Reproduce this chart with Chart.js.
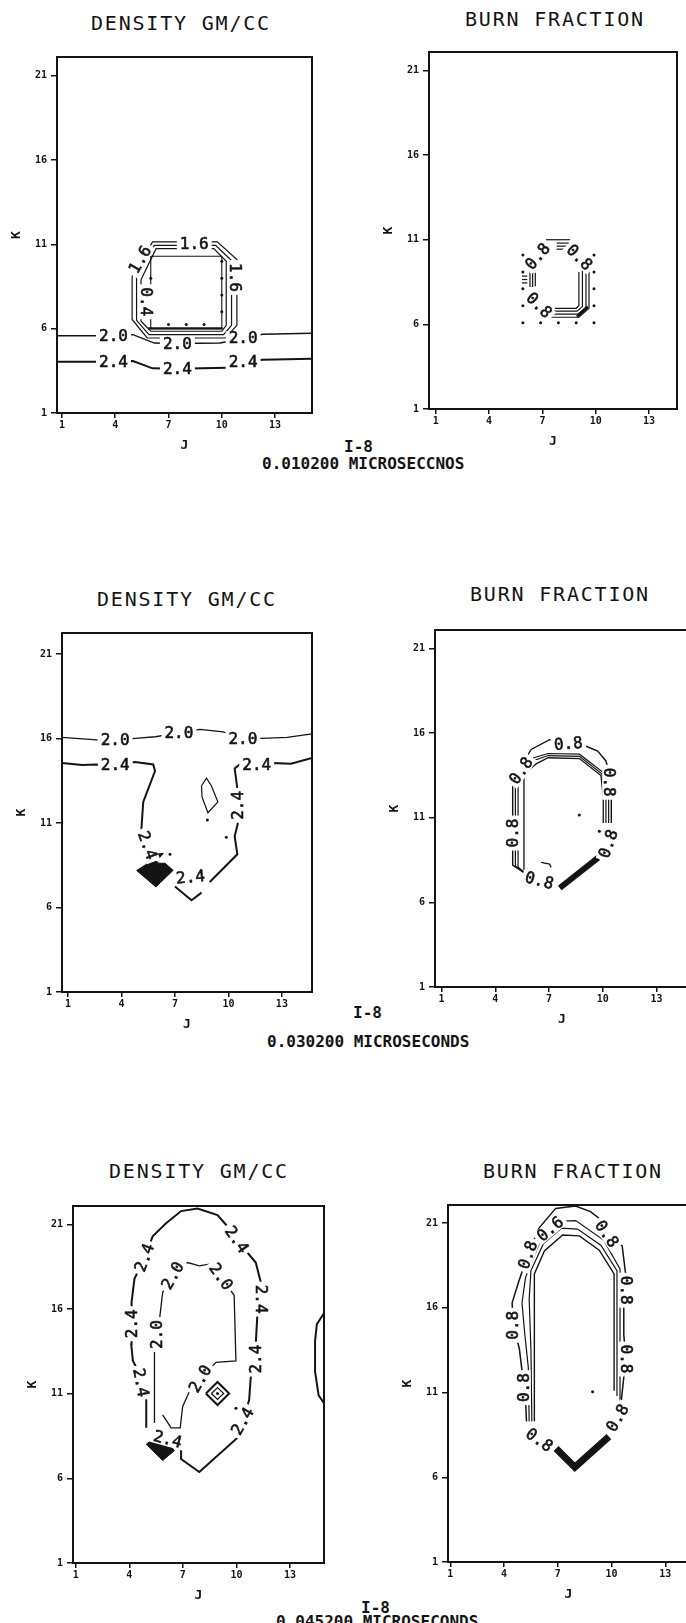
<!DOCTYPE html>
<html>
<head>
<meta charset="utf-8">
<title>I-8 density and burn fraction contours</title>
<script src="https://cdn.jsdelivr.net/npm/chart.js@4.4.1/dist/chart.umd.min.js"></script>
<style>
  html, body { margin: 0; padding: 0; background: #fff; }
  body { position: relative; width: 686px; height: 1623px; overflow: hidden;
         font-family: "DejaVu Sans Mono", monospace; color: #141414; }
  canvas { position: absolute; }
  .title { position: absolute; font-size: 20px; line-height: 20px; letter-spacing: 1.8px; white-space: pre; }
  .cap { position: absolute; font-size: 16px; line-height: 16px; font-weight: bold; white-space: pre; }
</style>
</head>
<body>
<div class="title" style="left:91px;top:13px">DENSITY GM/CC</div>
<div class="title" style="left:465px;top:9px">BURN FRACTION</div>
<div class="cap" style="left:344px;top:439px">I-8</div>
<div class="cap" style="left:262px;top:456px">0.010200 MICROSECCNOS</div>

<div class="title" style="left:97px;top:589px">DENSITY GM/CC</div>
<div class="title" style="left:470px;top:584px">BURN FRACTION</div>
<div class="cap" style="left:353px;top:1005px">I-8</div>
<div class="cap" style="left:267px;top:1034px">0.030200 MICROSECONDS</div>

<div class="title" style="left:109px;top:1161px">DENSITY GM/CC</div>
<div class="title" style="left:483px;top:1161px">BURN FRACTION</div>
<div class="cap" style="left:361px;top:1600px">I-8</div>
<div class="cap" style="left:276px;top:1614px">0.045200 MICROSECONDS</div>

<script>
// ------------------------------------------------------------
// grid index ticks, same on every frame
// ------------------------------------------------------------
const J_TICKS = [1, 4, 7, 10, 13];
const K_TICKS = [1, 6, 11, 16, 21];

// ---- t = 0.010200 : density ---------------------------------
const T1_RHO_24 = [[0.72,4.04],[3.9,4.04],[5.0,4.08],[6.1,3.65],[7.5,3.62],[10.3,3.68],[11.2,4.02],[12.3,4.16],[15.08,4.22]];
const T1_RHO_20 = [[0.72,5.58],[3.9,5.58],[5.0,5.65],[6.2,5.15],[7.5,5.12],[9.9,5.15],[11.2,5.42],[12.3,5.67],[15.08,5.73]];
const T1_RING_A = [[5.45,8.9],[5.45,6.45],[6.0,5.85],[10.0,5.85],[10.25,6.2],[10.25,10.0],[9.55,10.75],[6.3,10.75],[5.45,8.9]];
const T1_RING_B = [[5.2,9.0],[5.2,6.5],[5.9,5.65],[10.1,5.65],[10.55,6.2],[10.55,10.05],[9.65,10.95],[6.2,10.95],[5.2,9.0]];
const T1_RING_C = [[4.95,9.1],[4.95,6.55],[5.8,5.45],[10.2,5.45],[10.85,6.2],[10.85,10.1],[9.75,11.15],[6.1,11.15],[4.95,9.1]];
const T1_CORE = [[6.0,6.0],[6.0,10.3],[10.0,10.3],[10.0,6.0],[6.0,6.0]];
const T1_CORE_BASE = [[5.85,6.02],[10.05,6.02]];
const T1_DOTS = [[10,7],[10,8],[10,9],[10,10],[7,6.25],[8,6.25],[9,6.25],[6,9]];
const T1_LABELS = [['2.0',3.9,5.58,0],['2.0',7.5,5.13,0],['2.0',11.2,5.43,0],
                   ['2.4',3.9,4.04,0],['2.4',7.5,3.62,0],['2.4',11.2,4.02,0],
                   ['1.6',8.45,11.02,0],['1.6',5.4,10.1,-60],['1.6',10.73,9.04,90],['0.4',5.75,7.6,90]];

// ---- t = 0.010200 : burn fraction ---------------------------
const T2_CAP = [[[7.2,11.0],[8.55,11.0]],[[7.8,10.8],[8.5,10.8]],[[7.8,10.62],[8.5,10.62]],[[7.8,10.44],[8.5,10.44]]];
const T2_SIDE = [[[6.3,8.2],[6.3,9.1]],[[6.45,8.2],[6.45,9.1]],[[6.6,8.25],[6.6,9.05]],
                 [[5.85,8.85],[6.15,8.85]],[[5.85,8.65],[6.15,8.65]],[[5.85,8.45],[6.15,8.45]]];
const T2_CORNER = [[[7.7,6.95],[8.9,6.95],[9.05,7.1],[9.05,9.1]],
                   [[7.6,6.78],[8.95,6.78],[9.25,7.05],[9.25,9.15]],
                   [[7.5,6.6],[9.0,6.6],[9.45,7.0],[9.45,9.2]],
                   [[7.45,6.42],[9.05,6.42],[9.62,6.95],[9.62,9.2]]];
const T2_KNEE = [[8.95,6.45],[9.55,7.05]];
const T2_DOTS = [[5.9,10.1],[5.9,9.1],[5.9,8.1],[5.9,7.1],[5.9,6.1],[6.9,6.1],[7.9,6.1],[8.9,6.1],
                 [9.9,6.1],[9.9,7.1],[9.9,8.1],[9.9,9.1],[9.9,10.1]];
const T2_LABELS = [['0.8',6.73,10.02,-50],['0.8',9.08,9.96,45],['0.8',6.81,7.13,45]];

// ---- t = 0.030200 : density ---------------------------------
const T3_RHO_20 = [[0.66,16.07],[2.6,15.92],[3.64,15.92],[4.76,16.01],[5.9,16.11],[7.22,16.35],[8.4,16.55],[9.7,16.4],[10.81,16.01],[11.84,16.01],[13.3,16.07],[14.69,16.28]];
const T3_RHO_24_W = [[0.66,14.56],[1.78,14.43],[2.62,14.47],[3.65,14.43],[4.76,14.62],[5.78,14.47],[5.88,14.08],[5.22,12.25],[5.1,10.41]];
const T3_RHO_24_E = [[14.69,14.86],[13.51,14.51],[12.49,14.56],[11.59,14.47],[10.63,14.47],[10.35,14.23],[10.48,13.21],[10.53,12.05],[10.53,10.99],[10.35,10.22],[10.5,9.15],[8.95,7.51]];
const T3_RHO_24_S = [[7.0,7.25],[7.93,6.43],[8.49,6.88]];
const T3_ISLAND = [[8.49,13.21],[8.77,13.66],[9.04,13.21],[9.41,12.25],[8.85,11.61],[8.52,12.54],[8.49,13.21]];
const T3_CORE = [[4.85,8.19],[5.6,8.7],[5.9,8.8],[6.1,8.62],[6.45,8.62],[6.9,8.2],[5.93,7.22],[4.85,8.19]];
const T3_CORE_TIP = [[5.85,9.15],[6.35,9.2],[6.05,8.85],[5.85,9.15]];
const T3_DOTS = [[6.72,9.15],[8.82,11.18],[9.88,10.16]];
const T3_LABELS = [['2.0',3.64,15.92,0],['2.0',7.22,16.35,0],['2.0',10.81,16.01,0],
                   ['2.4',3.65,14.43,0],['2.4',11.59,14.47,0],['2.4',10.53,12.05,-90],
                   ['2.4',7.87,7.8,-5],['2.4',5.46,9.68,70]];

// ---- t = 0.030200 : burn fraction ---------------------------
const T4_SHELL_0 = [[5.72,7.7],[5.6,7.95],[5.6,13.6],[6.3,14.2],[6.95,14.55],[8.7,14.5],[9.9,13.5],[10.03,12.2],[10.03,10.7]];
const T4_SHELL_1 = [[5.68,7.72],[5.27,8.1],[5.27,13.4],[6.2,14.4],[6.95,14.68],[8.7,14.63],[9.95,13.6],[10.18,12.3],[10.18,10.7]];
const T4_SHELL_2 = [[5.64,7.74],[5.12,8.15],[5.12,13.3],[6.15,14.55],[6.95,14.8],[8.7,14.76],[10.0,13.7],[10.33,12.4],[10.33,10.7]];
const T4_SHELL_3 = [[5.6,7.76],[4.97,8.2],[4.97,13.2],[6.0,15.04],[7.03,15.62],[8.1,15.5],[9.07,15.23],[9.72,14.94],[10.18,14.36],[10.48,13.2],[10.48,10.7]];
const T4_TAIL = [[6.56,8.36],[7.03,8.27],[7.12,8.07]];
const T4_STREAK = [[7.6,6.85],[9.75,8.65]];
const T4_DOTS = [[8.69,11.16],[9.81,10.2]];
const T4_LABELS = [['0.8',8.08,15.38,-5],['0.8',5.44,13.78,-55],['0.8',10.36,13.1,90],
                   ['0.8',4.97,10.1,-90],['0.8',10.31,9.46,-70],['0.8',6.46,7.3,15]];

// ---- t = 0.045200 : density ---------------------------------
const T5_RHO_24 = [[4.95,8.98],[4.95,10.62],[4.65,11.65],[4.39,12.56],[4.2,12.94],[4.11,13.91],[4.15,15.13],[4.11,16.42],[4.29,17.78],[4.85,19.03],[5.31,20.29],[6.06,21.06],[6.9,21.78],[7.82,21.93],[8.94,21.54],[9.5,20.87],[10.01,20.1],[10.62,19.32],[11.08,18.74],[11.36,17.58],[11.36,16.58],[11.17,15.65],[11.08,13.91],[11.08,13.04],[10.8,11.98],[10.71,10.62],[10.34,9.37],[10.06,8.4],[7.92,6.37],[6.9,7.14],[6.9,8.11],[6.43,8.11]];
const T5_RHO_20 = [[5.41,9.27],[5.41,13.52],[5.55,14.49],[5.69,15.36],[5.87,16.99],[6.43,17.97],[7.27,18.74],[7.92,18.55],[8.48,18.65],[9.13,17.91],[9.87,16.81],[9.97,12.94],[8.85,12.85],[7.98,11.88],[7.36,11.11],[6.99,10.24],[6.85,8.98],[6.34,8.98],[5.87,9.75]];
const T5_RING_OUT = [[8.29,11.01],[8.94,11.69],[9.59,11.01],[8.94,10.33],[8.29,11.01]];
const T5_RING_IN = [[8.6,11.01],[8.94,11.36],[9.28,11.01],[8.94,10.66],[8.6,11.01]];
const T5_EDGE = [[14.9,15.75],[14.5,15.1],[14.4,14.1],[14.4,12.3],[14.6,10.9],[14.9,10.43]];
const T5_CORE = [[4.95,8.01],[5.69,8.59],[6.0,8.45],[6.52,7.63],[5.87,7.05],[4.95,8.01]];
const T5_DOTS = [[9.97,10.14],[8.94,11.01]];
const T5_LABELS = [['2.4',4.85,19.03,-70],['2.4',4.15,15.13,-90],['2.4',4.65,11.65,80],
                   ['2.4',10.01,20.1,55],['2.4',11.36,16.58,90],['2.4',11.08,13.04,-90],
                   ['2.4',10.34,9.37,-60],['2.0',6.43,17.97,-60],['2.0',9.13,17.91,55],
                   ['2.0',5.55,14.49,-90],['2.0',7.98,11.88,-60],['2.4',6.15,8.3,15]];

// ---- t = 0.045200 : burn fraction ---------------------------
const T6_SHELL_0 = [[5.69,9.3],[5.69,18.0],[6.25,19.36],[7.27,20.3],[8.2,20.25],[9.31,19.4],[10.14,18.0],[10.14,11.1]];
const T6_SHELL_1 = [[5.55,9.3],[5.5,13.5],[5.4,16.5],[5.5,18.2],[6.2,19.8],[7.2,20.7],[8.1,20.65],[9.4,19.7],[10.3,18.2],[10.3,10.8]];
const T6_SHELL_2 = [[5.4,9.3],[5.35,12.5],[5.15,14.5],[5.0,16.3],[5.2,17.8],[6.0,19.9],[7.0,21.1],[8.0,21.15],[9.55,20.0],[10.47,18.3],[10.47,10.5]];
const T6_SHELL_3 = [[5.25,9.3],[5.2,10.5],[5.09,11.3],[5.0,12.3],[4.85,13.6],[4.5,14.97],[4.45,16.3],[4.8,17.5],[5.32,19.12],[5.95,20.71],[6.88,21.87],[7.99,22.01],[8.82,21.68],[9.4,21.2],[9.73,20.37],[10.59,19.65],[10.77,18.1],[10.79,17.04],[10.68,16.07],[10.68,14.43],[10.79,12.98],[10.68,11.9],[10.55,10.6],[10.33,9.5]];
const T6_FRONT = [[6.9,7.7],[7.95,6.6],[9.85,8.4]];
const T6_DOTS = [[8.94,11.05]];
const T6_LABELS = [['0.6',6.57,20.66,-40],['0.8',5.32,19.12,-70],['0.8',9.73,20.37,55],
                   ['0.8',10.79,17.04,90],['0.8',10.79,12.98,90],['0.8',10.33,9.5,-60],
                   ['0.8',4.5,14.97,-90],['0.8',5.09,11.29,-90],['0.8',5.97,8.2,35]];

// ------------------------------------------------------------
const INK = '#141414';
const FONT = '"DejaVu Sans Mono", monospace';
const AXIS_W = 56, AXIS_H = 45, PAD = 3;

const line = (pts, w) => ({
  data: pts.map(([x, y]) => ({ x, y })), showLine: true, fill: false,
  borderColor: INK, borderWidth: w, pointRadius: 0
});
const solid = pts => ({ ...line(pts, 1), backgroundColor: INK, fill: 'shape' });
const dots = pts => ({
  data: pts.map(([x, y]) => ({ x, y })), showLine: false,
  pointRadius: 1.5, pointBackgroundColor: INK, pointBorderWidth: 0
});

// contour value tags (white knock-out behind each) + the plot frame
const contourText = {
  id: 'contourText',
  afterDatasetsDraw(chart, args, opts) {
    const { ctx, chartArea: a, scales: { x, y } } = chart;
    ctx.save();
    ctx.font = '16px ' + FONT;
    ctx.textAlign = 'center';
    ctx.textBaseline = 'middle';
    ctx.lineWidth = 0.6;
    ctx.strokeStyle = INK;
    for (const [text, j, k, rot] of opts.labels || []) {
      const w = ctx.measureText(text).width;
      ctx.save();
      ctx.translate(x.getPixelForValue(j), y.getPixelForValue(k));
      ctx.rotate(rot * Math.PI / 180);
      ctx.fillStyle = '#fff';
      ctx.fillRect(-w / 2 - 3, -7, w + 6, 14);
      ctx.fillStyle = INK;
      ctx.fillText(text, 0, 1);
      ctx.strokeText(text, 0, 1);   // plotter pen is a bit heavier than the font
      ctx.restore();
    }
    ctx.lineWidth = 2;
    ctx.strokeRect(a.left, a.top, a.right - a.left, a.bottom - a.top);
    ctx.restore();
  }
};

function axis(range, ticks, title, isY) {
  return {
    type: 'linear', min: range[0], max: range[1],
    afterBuildTicks: s => { s.ticks = ticks.map(v => ({ value: v })); },
    afterFit: s => { if (isY) s.width = AXIS_W; else s.height = AXIS_H; },
    grid: { drawOnChartArea: false, drawTicks: true, tickLength: isY ? 6 : 5, color: INK, lineWidth: 1.5 },
    border: { display: false },
    ticks: { color: INK, padding: isY ? 4 : 1, autoSkip: false, maxRotation: 0,
             callback: v => String(v), font: { family: FONT, size: 10, weight: 'bold' } },
    title: { display: true, text: title, color: INK, font: { family: FONT, size: 13, weight: 'bold' },
             padding: isY ? { top: 8, bottom: 0 } : { top: 0, bottom: 5 } }
  };
}

const PANELS = [
  { box: [57, 50, 313, 413], j: [0.72, 15.08], k: [1, 22.12], labels: T1_LABELS,
    sets: [line(T1_RHO_24, 2), line(T1_RHO_20, 1.4), line(T1_RING_A, 1.2), line(T1_RING_B, 1.2),
           line(T1_RING_C, 1.2), line(T1_CORE, 1.1), line(T1_CORE_BASE, 2.4), dots(T1_DOTS)] },
  { box: [429, 45, 678, 409], j: [0.62, 14.57], k: [1, 22.09], labels: T2_LABELS,
    sets: [...T2_CAP.map(p => line(p, 1.2)), ...T2_SIDE.map(p => line(p, 1.2)),
           ...T2_CORNER.map(p => line(p, 1.2)), line(T2_KNEE, 3), dots(T2_DOTS)] },
  { box: [62, 626, 313, 992], j: [0.66, 14.69], k: [1, 22.25], labels: T3_LABELS,
    sets: [line(T3_RHO_20, 1.3), line(T3_RHO_24_W, 2), line(T3_RHO_24_E, 2), line(T3_RHO_24_S, 2),
           line(T3_ISLAND, 1.2), solid(T3_CORE), solid(T3_CORE_TIP), dots(T3_DOTS)] },
  { box: [435, 623, 690, 987], j: [0.63, 14.82], k: [1, 22.1], labels: T4_LABELS,
    sets: [line(T4_SHELL_0, 1.3), line(T4_SHELL_1, 1.2), line(T4_SHELL_2, 1.2), line(T4_SHELL_3, 1.4),
           line(T4_TAIL, 1.3), line(T4_STREAK, 6), dots(T4_DOTS)] },
  { box: [73, 1199, 325, 1563], j: [0.85, 14.9], k: [1, 22.08], labels: T5_LABELS,
    sets: [line(T5_RHO_24, 2), line(T5_RHO_20, 1.3), line(T5_RING_OUT, 2), line(T5_RING_IN, 1.3),
           line(T5_EDGE, 2), solid(T5_CORE), dots(T5_DOTS)] },
  { box: [448, 1198, 690, 1562], j: [0.87, 14.32], k: [1, 22.07], labels: T6_LABELS,
    sets: [line(T6_SHELL_0, 1.4), line(T6_SHELL_1, 1.2), line(T6_SHELL_2, 1.2), line(T6_SHELL_3, 1.5),
           line(T6_FRONT, 7), dots(T6_DOTS)] }
];

for (const p of PANELS) {
  const [bl, bt, br, bb] = p.box;
  const cv = document.createElement('canvas');
  cv.width = AXIS_W + (br - bl) + PAD;
  cv.height = PAD + (bb - bt) + AXIS_H;
  cv.style.left = (bl - AXIS_W) + 'px';
  cv.style.top = (bt - PAD) + 'px';
  document.body.appendChild(cv);

  new Chart(cv, {
    type: 'scatter',
    data: { datasets: p.sets },
    options: {
      responsive: false, animation: false, events: [],
      layout: { padding: { top: PAD, right: PAD, left: 0, bottom: 0 } },
      elements: { line: { tension: 0 } },
      plugins: { legend: { display: false }, tooltip: { enabled: false },
                 contourText: { labels: p.labels } },
      scales: { x: axis(p.j, J_TICKS, 'J', false), y: axis(p.k, K_TICKS, 'K', true) }
    },
    plugins: [contourText]
  });
}
</script>
</body>
</html>
